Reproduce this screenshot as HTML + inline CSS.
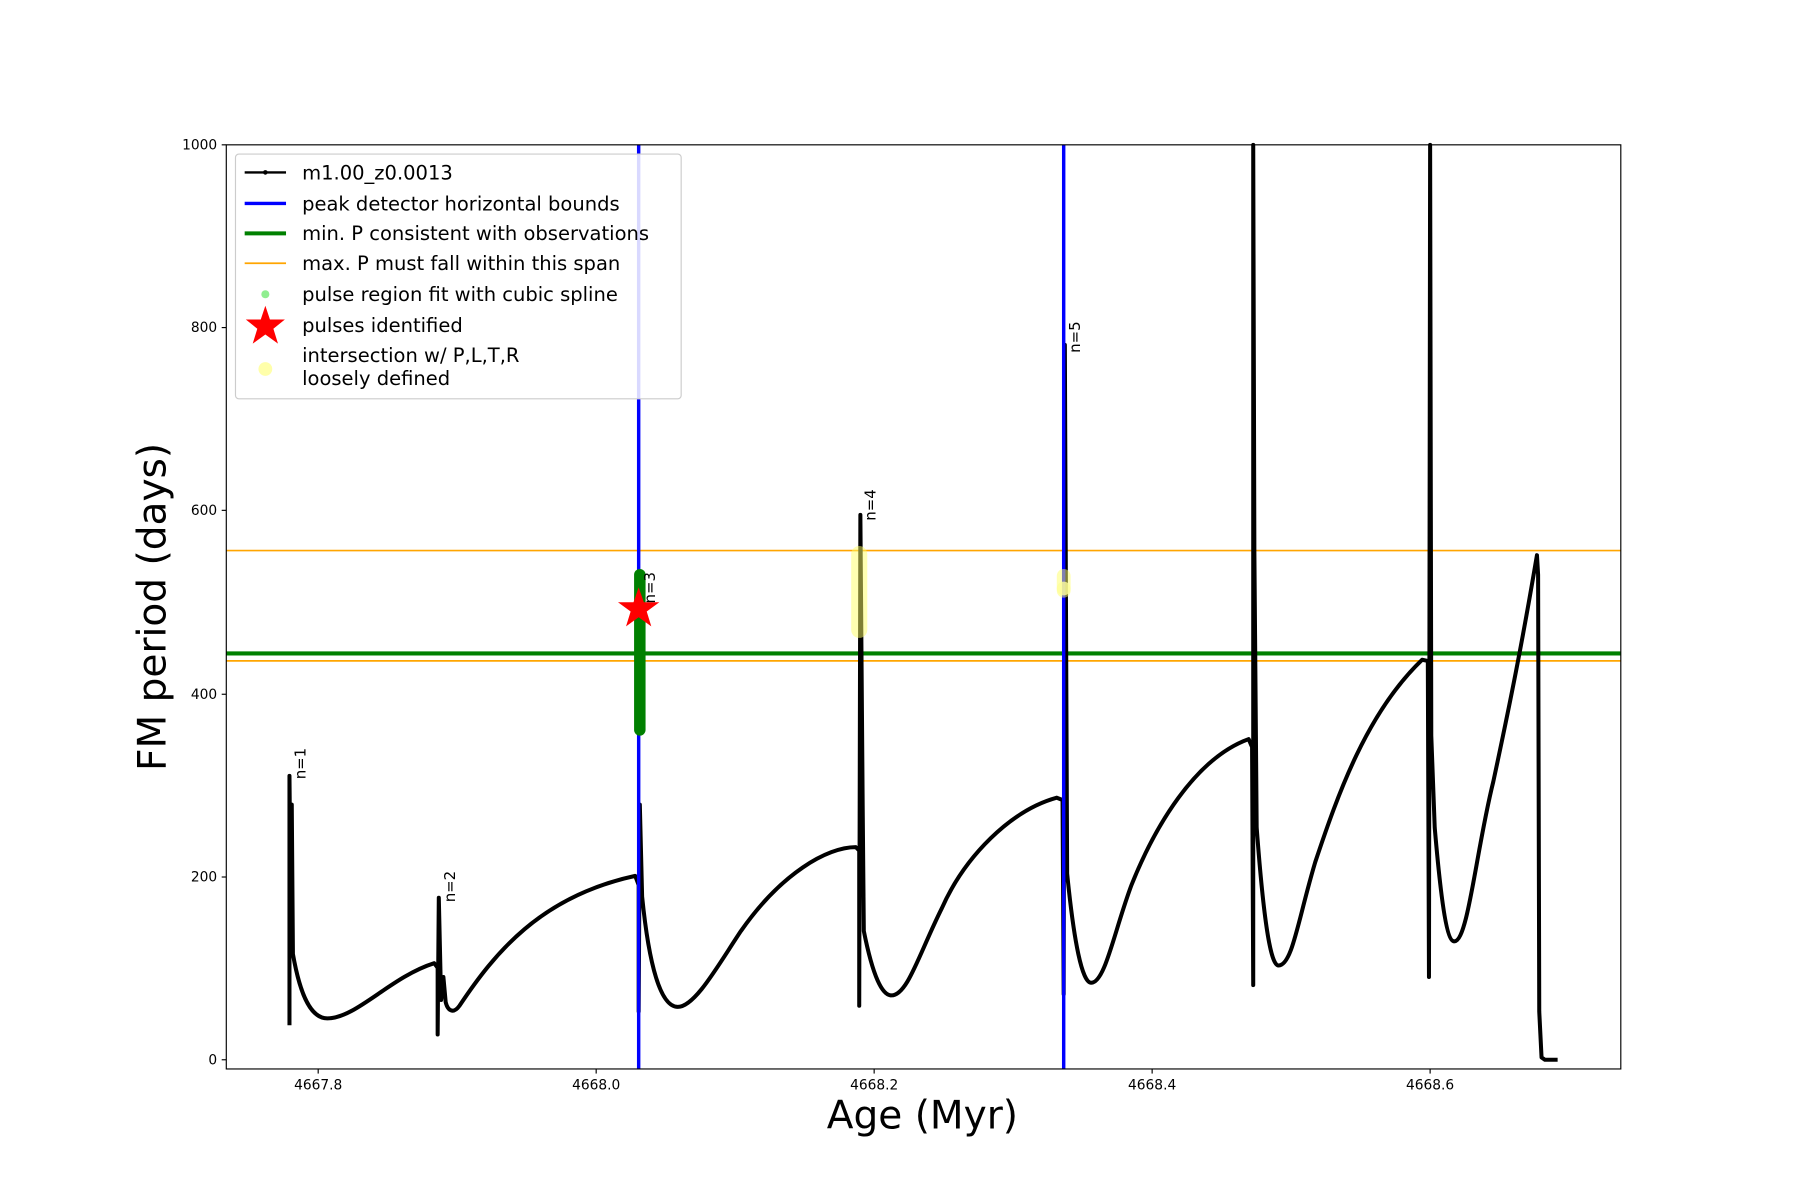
<!DOCTYPE html>
<html><head><meta charset="utf-8"><style>html,body{margin:0;padding:0;background:#fff}svg{display:block}text{font-family:"DejaVu Sans","Liberation Sans",sans-serif}</style></head>
<body>
<svg width="1800" height="1200" viewBox="0 0 1567 1044" preserveAspectRatio="none" xmlns="http://www.w3.org/2000/svg">
<rect x="0" y="0" width="1567" height="1044" fill="#fff"/>
<line x1="197" y1="479" x2="1411" y2="479" stroke="orange" stroke-width="1.5"/>
<line x1="197" y1="575" x2="1411" y2="575" stroke="orange" stroke-width="1.5"/>
<line x1="197" y1="568.5" x2="1411" y2="568.5" stroke="green" stroke-width="3.5"/>
<g fill="none" stroke="#000" stroke-width="3.5" stroke-linejoin="round">
<path d="M252,892 L252,675 L253,780 L254,700 L255,830 C262,870 272,886 285,886 C310,886 340,850 378,838 L381,842 L381,900 L382,781 L384,870 L386,850 L388,872 C390,880 395,882 400,875 C430,830 470,780 553,762 L556,770 L556,880 L557,700 L559,780 C565,840 575,876 590,876 C605,876 625,840 645,810 C680,760 720,737 745,737 L748,740 L748,875 L749,448 L751,700 L752,810 C760,850 768,866 776,866 C790,866 800,830 820,790 C840,745 880,705 920,694 L925,696 L926,865 L927,300 L929,760 C935,820 942,855 950,855 C962,855 970,810 985,770 C1005,720 1040,660 1087,643 L1090,650 L1091,857 L1091,126 L1092,480 L1094,720 C1100,800 1106,840 1113,840 C1125,840 1130,800 1145,750 C1165,690 1190,620 1238,574 L1243,575 L1244,850 L1245,126 L1246,640 L1249,720 C1255,790 1260,819 1266,819 C1278,819 1285,740 1300,680 C1315,610 1325,560 1338,483 L1339,500 L1340,880 L1341,900 L1342,920 L1345,922 L1356,922"/>
</g>
<line x1="556" y1="126" x2="556" y2="930" stroke="blue" stroke-width="3"/>
<line x1="926" y1="126" x2="926" y2="930" stroke="blue" stroke-width="3"/>
<rect x="552" y="495" width="10" height="145" rx="5" fill="green"/>
<rect x="741" y="475" width="14" height="80" rx="7" fill="#ffff66" opacity="0.5"/>
<rect x="920" y="495" width="12" height="25" rx="6" fill="#ffff66" opacity="0.5"/>
<circle cx="926" cy="512" r="6" fill="#ffff99" opacity="0.8"/>
<polygon fill="red" points="556,511 560.5,524 574,524 563,532 567,545 556,537 545,545 549,532 538,524 551.5,524"/>
<g font-size="13" fill="#000">
<text transform="translate(266,678) rotate(-90)">n=1</text>
<text transform="translate(396,785) rotate(-90)">n=2</text>
<text transform="translate(570,525) rotate(-90)">n=3</text>
<text transform="translate(762,453) rotate(-90)">n=4</text>
<text transform="translate(940,307) rotate(-90)">n=5</text>
</g>
<rect x="197" y="126" width="1214" height="804" fill="none" stroke="#000" stroke-width="1"/>
<g stroke="#000" stroke-width="1">
<line x1="277" y1="930" x2="277" y2="934"/><line x1="519" y1="930" x2="519" y2="934"/><line x1="761" y1="930" x2="761" y2="934"/><line x1="1003" y1="930" x2="1003" y2="934"/><line x1="1245" y1="930" x2="1245" y2="934"/>
<line x1="193" y1="922" x2="197" y2="922"/><line x1="193" y1="763" x2="197" y2="763"/><line x1="193" y1="604" x2="197" y2="604"/><line x1="193" y1="444" x2="197" y2="444"/><line x1="193" y1="285" x2="197" y2="285"/><line x1="193" y1="126" x2="197" y2="126"/>
</g>
<g font-size="12" fill="#000" text-anchor="middle">
<text x="277" y="948">4667.8</text><text x="519" y="948">4668.0</text><text x="761" y="948">4668.2</text><text x="1003" y="948">4668.4</text><text x="1245" y="948">4668.6</text>
</g>
<g font-size="12" fill="#000" text-anchor="end">
<text x="189" y="926">0</text><text x="189" y="767">200</text><text x="189" y="608">400</text><text x="189" y="448">600</text><text x="189" y="289">800</text><text x="189" y="130">1000</text>
</g>
<text x="803" y="982" font-size="34" text-anchor="middle">Age (Myr)</text>
<text transform="translate(144,528) rotate(-90)" font-size="34" text-anchor="middle">FM period (days)</text>
<rect x="205" y="134" width="388" height="213" rx="3" fill="#fff" fill-opacity="0.85" stroke="#ccc"/>
<line x1="213" y1="150" x2="249" y2="150" stroke="#000" stroke-width="2"/><circle cx="231" cy="150" r="2"/>
<line x1="213" y1="177" x2="249" y2="177" stroke="blue" stroke-width="3"/>
<line x1="213" y1="203" x2="249" y2="203" stroke="green" stroke-width="3.5"/>
<line x1="213" y1="229" x2="249" y2="229" stroke="orange" stroke-width="1.5"/>
<circle cx="231" cy="256" r="3.5" fill="lightgreen"/>
<polygon fill="red" points="231,266 235,278 248,278 238,286 242,299 231,291 220,299 224,286 214,278 227,278"/>
<circle cx="231" cy="321" r="6" fill="#ffffaa"/>
<g font-size="17" fill="#000">
<text x="263" y="156">m1.00_z0.0013</text>
<text x="263" y="183">peak detector horizontal bounds</text>
<text x="263" y="209">min. P consistent with observations</text>
<text x="263" y="235">max. P must fall within this span</text>
<text x="263" y="262">pulse region fit with cubic spline</text>
<text x="263" y="289">pulses identified</text>
<text x="263" y="315">intersection w/ P,L,T,R</text>
<text x="263" y="335">loosely defined</text>
</g>
</svg>
</body></html>
